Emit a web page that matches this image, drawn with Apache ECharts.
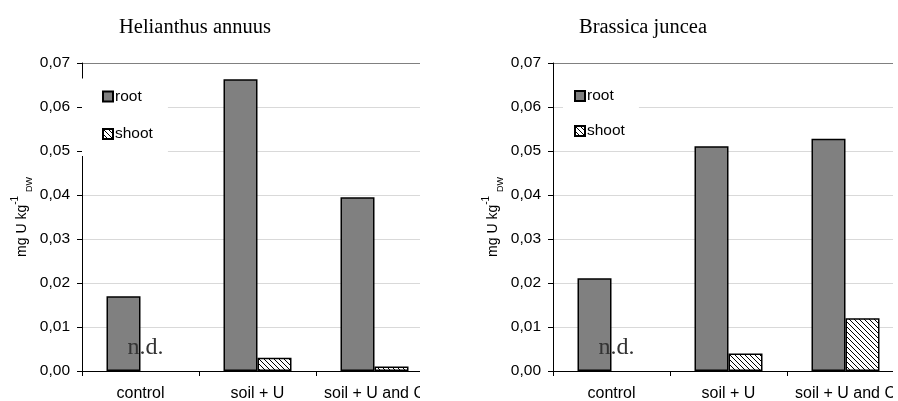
<!DOCTYPE html>
<html>
<head>
<meta charset="utf-8">
<script src="https://cdn.jsdelivr.net/npm/echarts@6/dist/echarts.min.js"></script>
<style>html,body{margin:0;padding:0;background:#fff;}#c{width:898px;height:401px;}</style>
</head>
<body>
<div id="c"></div>
<script>
const categories = ['control', 'soil + U', 'soil + U and C'];
const yTicks = [0, 0.01, 0.02, 0.03, 0.04, 0.05, 0.06, 0.07];
const titles = ['Helianthus annuus', 'Brassica juncea'];
const helianthusRoot = [0.017, 0.0663, 0.0395];
const helianthusShoot = [0, 0.003, 0.001];
const brassicaRoot = [0.0211, 0.0511, 0.0528];
const brassicaShoot = [0, 0.004, 0.012];
const ndLabel = 'n.d.';

function hatch() {
  const c = document.createElement('canvas');
  c.width = 5; c.height = 5;
  const g = c.getContext('2d');
  g.fillStyle = '#fff'; g.fillRect(0, 0, 5, 5);
  g.strokeStyle = '#000'; g.lineWidth = 1;
  for (const o of [-5, 0, 5]) { g.beginPath(); g.moveTo(o, 0); g.lineTo(o + 5, 5); g.stroke(); }
  return { image: c, repeat: 'repeat' };
}
const hatchFill = hatch();

const sans = 'Liberation Sans, Arial, sans-serif';
const serif = 'Liberation Serif, Times New Roman, serif';
const grids = [
  { left: 82, top: 63, width: 351, height: 308, outerBoundsMode: 'none', containLabel: false },
  { left: 553, top: 63, width: 351, height: 308, outerBoundsMode: 'none', containLabel: false }
];
const splitColors = yTicks.map((v, i) => i === yTicks.length - 1 ? '#808080' : '#d9d9d9');

function xAx(i) {
  return {
    type: 'category', gridIndex: i, data: categories,
    axisLine: { lineStyle: { color: '#000', width: 1 } },
    axisTick: { show: true, length: 5, lineStyle: { color: '#000' } },
    axisLabel: { color: '#000', fontSize: 16, fontFamily: sans, margin: 15, interval: 0 }
  };
}
function yAx(i) {
  return {
    type: 'value', gridIndex: i, min: yTicks[0], max: yTicks[yTicks.length - 1], interval: 0.01,
    name: '{a|mg U kg}{sup|-1}{a| }{sub|DW}',
    nameLocation: 'middle', nameGap: 48, nameRotate: 90,
    nameTextStyle: {
      rich: {
        a: { fontSize: 14, fontFamily: sans, color: '#000', lineHeight: 24 },
        sup: { fontSize: 10, fontFamily: sans, color: '#000', verticalAlign: 'top' },
        sub: { fontSize: 9, fontFamily: sans, color: '#000', verticalAlign: 'bottom' }
      }
    },
    axisLine: { show: true, lineStyle: { color: '#000', width: 1 } },
    axisTick: { show: true, length: 5, lineStyle: { color: '#000' } },
    axisLabel: { color: '#000', fontSize: 15.5, fontFamily: sans, margin: 12,
      formatter: v => v.toFixed(2).replace('.', ',') },
    splitLine: { show: true, lineStyle: { color: splitColors, width: 1 } }
  };
}
function shootData(arr) {
  return arr.map((v, j) => j === 0 ? {
    value: v,
    itemStyle: { borderWidth: 0 },
    label: { show: true, formatter: ndLabel, position: 'top', distance: 5, offset: [-12, -6],
      fontFamily: serif, fontSize: 24, color: '#333' }
  } : v);
}
function series(i, root, shoot) {
  return [
    { name: 'root', type: 'bar', xAxisIndex: i, yAxisIndex: i, data: root, barWidth: 34, barGap: '0%',
      itemStyle: { color: '#808080', borderColor: '#000', borderWidth: 1.5 } },
    { name: 'shoot', type: 'bar', xAxisIndex: i, yAxisIndex: i, data: shootData(shoot), barWidth: 34, barGap: '0%',
      itemStyle: { color: hatchFill, borderColor: '#000', borderWidth: 1.5 } }
  ];
}
const legendBase = {
  orient: 'vertical', icon: 'rect', itemWidth: 10, itemHeight: 10,
  backgroundColor: '#fff',
  textStyle: { fontSize: 15.5, lineHeight: 16, fontFamily: sans, color: '#000', padding: [0, 0, 0, -3] },
  data: ['root', 'shoot'], selectedMode: false
};
const titleStyle = { fontFamily: serif, fontSize: 20.5, fontWeight: 'normal', color: '#000' };
const option = {
  animation: false,
  backgroundColor: '#fff',
  title: [
    { text: titles[0], left: 195, top: 17, textAlign: 'center', padding: 0, textStyle: titleStyle },
    { text: titles[1], left: 643, top: 17, textAlign: 'center', padding: 0, textStyle: titleStyle }
  ],
  grid: grids,
  xAxis: [xAx(0), xAx(1)],
  yAxis: [yAx(0), yAx(1)],
  legend: [
    Object.assign({}, legendBase, { left: 82, top: 78.5, itemGap: 21.5, padding: [10, 15, 14, 20] }),
    Object.assign({}, legendBase, { left: 563, top: 78, itemGap: 19, padding: [10, 14, 10, 11] })
  ],
  series: series(0, helianthusRoot, helianthusShoot).concat(series(1, brassicaRoot, brassicaShoot)),
  graphic: [
    { type: 'rect', shape: { x: 420, y: 55, width: 60, height: 346 }, style: { fill: '#fff' }, z: 100 },
    { type: 'rect', shape: { x: 893, y: 55, width: 10, height: 346 }, style: { fill: '#fff' }, z: 100 }
  ]
};
const chart = echarts.init(document.getElementById('c'), null, { renderer: 'canvas' });
chart.setOption(option);
</script>
</body>
</html>
